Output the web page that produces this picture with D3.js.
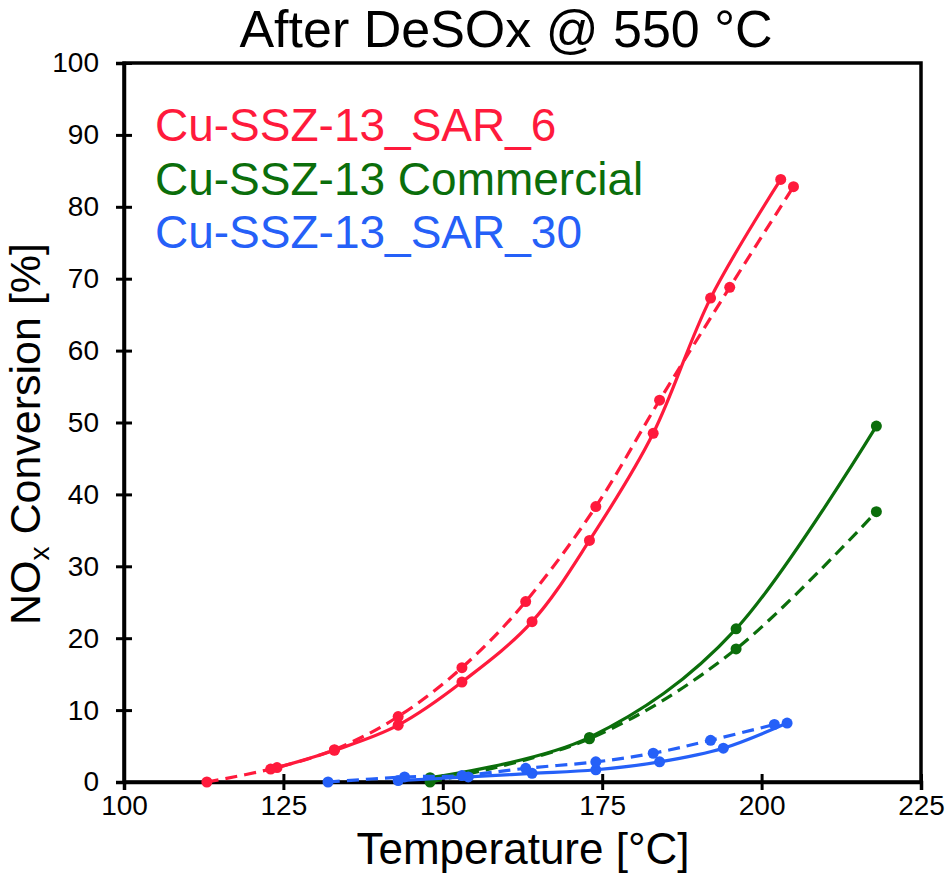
<!DOCTYPE html>
<html><head><meta charset="utf-8">
<script src="https://cdn.jsdelivr.net/npm/d3@7"></script>
<style>body{margin:0;background:#fff}svg{display:block;font-family:Arial,"Liberation Sans",sans-serif}</style>
</head><body><svg id="c" width="945" height="886"></svg>
<script>
const xTicks=[100,125,150,175,200,225];
const yTicks=[0,10,20,30,40,50,60,70,80,90,100];
const sar6SolidT=[124,133,143,153,164,173,183,192,203];
const sar6SolidY=[2.0,4.4,7.9,13.9,22.3,33.6,48.5,67.3,83.8];
const sar6DashT=[113,123,133,143,153,163,174,184,195,205];
const sar6DashY=[0,1.8,4.5,9.1,15.9,25.1,38.3,53.1,68.8,82.8];
const commSolidT=[148,173,196,218];
const commSolidY=[0.6,6.2,21.3,49.5];
const commDashT=[148,173,196,218];
const commDashY=[0,6.0,18.5,37.6];
const sar30SolidT=[143,154,164,174,184,194,204];
const sar30SolidY=[0.2,0.7,1.2,1.7,2.8,4.7,8.2];
const sar30DashT=[132,144,153,163,174,183,192,202];
const sar30DashY=[0,0.7,0.9,1.9,2.8,4.0,5.8,8.0];
const legendLabels=["Cu-SSZ-13_SAR_6","Cu-SSZ-13 Commercial","Cu-SSZ-13_SAR_30"];
const colors=["#ff1a3c","#0b6e0b","#2560f8"];

const svg=d3.select("#c");
const L=124,R=921,T=63,B=782;
const x=d3.scaleLinear().domain([100,225]).range([L,R]);
const y=d3.scaleLinear().domain([0,100]).range([B,T]);

// frame
svg.append("rect").attr("x",L).attr("y",T).attr("width",R-L).attr("height",B-T)
  .attr("fill","none").attr("stroke","#000").attr("stroke-width",3.5);

const xa=svg.append("g").attr("transform",`translate(0,${B})`)
  .call(d3.axisBottom(x).tickValues(xTicks).tickSize(8).tickPadding(5));
const ya=svg.append("g").attr("transform",`translate(${L},0)`)
  .call(d3.axisLeft(y).tickValues(yTicks).tickSize(8).tickPadding(17));
[xa,ya].forEach(g=>{
  g.select(".domain").attr("stroke","#000").attr("stroke-width",3.5);
  g.selectAll(".tick line").attr("stroke","#000").attr("stroke-width",3);
  g.selectAll(".tick text").attr("font-size",28).attr("fill","#000").attr("font-family","Arial, Liberation Sans, sans-serif");
});
xa.selectAll(".tick line").attr("y1",-8);
ya.selectAll(".tick line").attr("x1",8);

const series=[
  {t:sar6SolidT,v:sar6SolidY,c:0,dash:null},
  {t:sar6DashT,v:sar6DashY,c:0,dash:"12,7"},
  {t:commSolidT,v:commSolidY,c:1,dash:null},
  {t:commDashT,v:commDashY,c:1,dash:"12,7"},
  {t:sar30SolidT,v:sar30SolidY,c:2,dash:null},
  {t:sar30DashT,v:sar30DashY,c:2,dash:"12,7"}
];
const line=d3.line().x(d=>x(d[0])).y(d=>y(d[1])).curve(d3.curveCatmullRom.alpha(0));
series.forEach(s=>{
  const pts=s.t.map((t,i)=>[t,s.v[i]]);
  const g=svg.append("g");
  g.append("path").attr("d",line(pts)).attr("fill","none").attr("stroke",colors[s.c])
    .attr("stroke-width",3.2).attr("stroke-dasharray",s.dash);
  g.selectAll("circle").data(pts).join("circle").attr("cx",d=>x(d[0])).attr("cy",d=>y(d[1]))
    .attr("r",5.5).attr("fill",colors[s.c]);
});

// legend
legendLabels.forEach((l,i)=>{
  svg.append("text").attr("x",155).attr("y",141+i*53.5).attr("font-size",46)
    .attr("fill",colors[i]).text(l);
});

// title
svg.append("text").attr("x",506).attr("y",47).attr("text-anchor","middle")
  .attr("font-size",52).attr("fill","#000").text("After DeSOx @ 550 °C");
// x label
svg.append("text").attr("x",523).attr("y",864).attr("text-anchor","middle")
  .attr("font-size",44).attr("fill","#000").text("Temperature [°C]");
// y label
const yl=svg.append("text").attr("transform",`translate(40,434) rotate(-90)`)
  .attr("text-anchor","middle").attr("font-size",43).attr("fill","#000");
yl.append("tspan").text("NO");
yl.append("tspan").attr("font-size",28).attr("dy",9).text("x");
yl.append("tspan").attr("dy",-9).text(" Conversion [%]");
</script></body></html>
